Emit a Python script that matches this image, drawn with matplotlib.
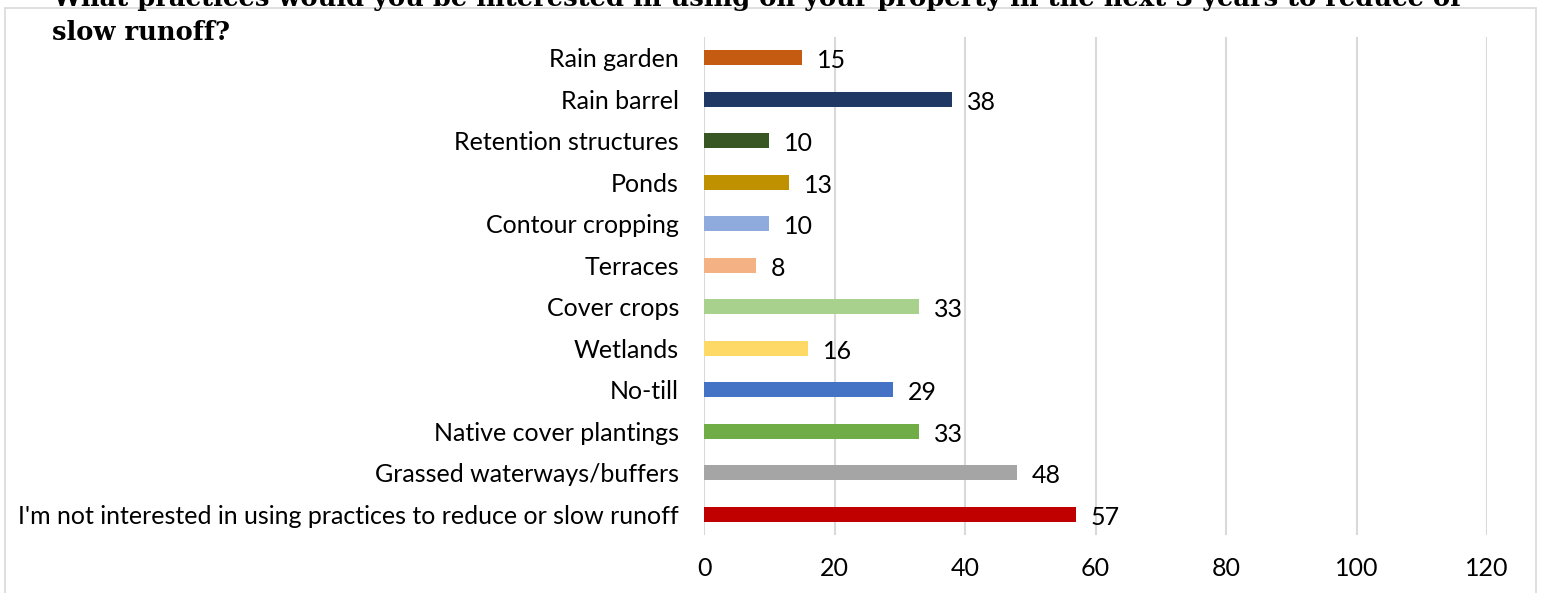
import matplotlib
matplotlib.use("Agg")
import matplotlib.pyplot as plt
from matplotlib.patches import Rectangle

plt.rcParams['font.family'] = 'Lato'

categories = ["Rain garden", "Rain barrel", "Retention structures", "Ponds",
              "Contour cropping", "Terraces", "Cover crops", "Wetlands",
              "No-till", "Native cover plantings", "Grassed waterways/buffers",
              "I'm not interested in using practices to reduce or slow runoff"]
values = [15, 38, 10, 13, 10, 8, 33, 16, 29, 33, 48, 57]
colors = ["#C55A11", "#203864", "#375623", "#BF9000", "#8FAADC", "#F4B183",
          "#A9D18E", "#FFD966", "#4472C4", "#70AD47", "#A5A5A5", "#C00000"]
xticks = [0, 20, 40, 60, 80, 100, 120]
title_lines = ["What practices would you be interested in using on your property in the next 3 years to reduce or",
               "slow runoff?"]

W, H = 1541, 593
fig = plt.figure(figsize=(W / 100, H / 100), dpi=100)

# outer chart frame
fig.patches.append(Rectangle((5 / W, 1 - 600 / H), 1531 / W, 592 / H,
                             transform=fig.transFigure, fill=False,
                             edgecolor="#D9D9D9", lw=1.2, zorder=0))

ax = fig.add_axes([704 / W, 1 - 535 / H, (1487 - 704) / W, (535 - 37) / H])
pos = list(range(len(categories)))
ax.barh(pos, values, height=0.37, color=colors, zorder=3)
ax.set_ylim(len(categories) - 0.5, -0.5)
ax.set_xlim(0, 120)
ax.set_yticks(pos)
ax.set_yticklabels(categories, fontsize=18, color="#000000")
ax.set_xticks(xticks)
ax.set_xticklabels([str(t) for t in xticks], fontsize=18, color="#000000")
ax.tick_params(length=0)
ax.tick_params(axis="y", pad=18)
ax.tick_params(axis="x", pad=16)
ax.grid(axis="x", color="#D9D9D9", lw=1.5, zorder=0)
for s in ax.spines.values():
    s.set_visible(False)

for p, v in zip(pos, values):
    ax.annotate(str(v), (v, p), xytext=(15, -3), textcoords="offset pixels",
                va="center", ha="left", fontsize=18, color="#000000")

# title sits partly above the top edge, as in the source image
fig.text(52 / W, 1 - 6 / H, title_lines[0], family="DejaVu Serif",
         weight="bold", fontsize=18.5, va="baseline", ha="left")
fig.text(52 / W, 1 - 40 / H, title_lines[1], family="DejaVu Serif",
         weight="bold", fontsize=18.5, va="baseline", ha="left")

fig.savefig("out.png", dpi=100, facecolor="white")
